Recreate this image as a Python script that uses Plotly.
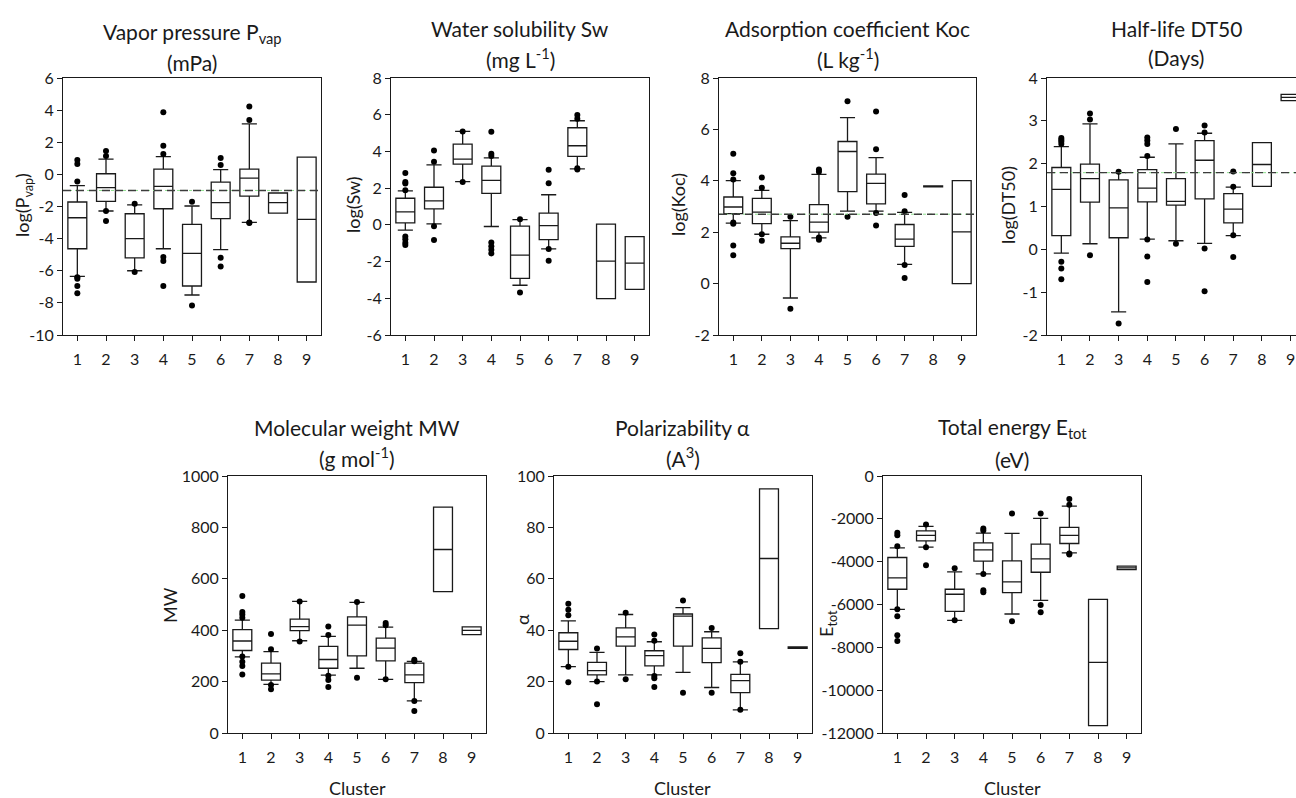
import plotly.graph_objects as go

W, H = 1296, 798
clusters = [1, 2, 3, 4, 5, 6, 7, 8, 9]

# ---------------- Vapor pressure ----------------
pvap_q1 = [-4.63, -1.68, -5.2, -2.14, -6.95, -2.76, -1.35, -2.41, -6.7]
pvap_med = [-2.7, -0.83, -4.0, -0.75, -4.92, -1.76, -0.23, -1.76, -2.8]
pvap_q3 = [-1.72, 0.04, -2.45, 0.33, -3.11, -0.48, 0.33, -1.16, 1.08]
pvap_lo = [-6.35, -2.28, -6.0, -4.63, -7.51, -4.69, -2.99, -2.41, -6.7]
pvap_hi = [-0.7, 0.95, -1.9, 1.1, -1.97, 0.29, 3.15, -1.16, 1.08]
pvap_out = [[0.9, 0.65, -0.45, -6.4, -6.5, -6.95, -7.4], [1.45, 1.14, -2.28, -2.9],
            [-1.83, -6.08], [3.86, 1.78, 1.27, -5.15, -5.4, -6.95], [-1.7, -8.17],
            [1.02, 0.58, -5.19, -5.73], [4.23, 3.38, -2.99, -3.03], [], []]
pvap_ref = -1.0
pvap_ticks = [-10, -8, -6, -4, -2, 0, 2, 4, 6]

# ---------------- Water solubility ----------------
sw_q1 = [0.11, 0.87, 3.31, 1.71, -2.91, -0.8, 3.73, -4.02, -3.51]
sw_med = [0.71, 1.31, 3.58, 2.42, -1.65, -0.04, 4.31, -1.98, -2.09]
sw_q3 = [1.45, 2.05, 4.4, 3.2, -0.07, 0.64, 5.29, 0.04, -0.64]
sw_lo = [-0.29, 0.05, 2.36, -0.09, -3.29, -1.31, 3.05, -4.02, -3.51]
sw_hi = [1.85, 3.27, 5.09, 3.65, 0.29, 1.64, 5.67, 0.04, -0.64]
sw_out = [[2.82, 2.33, 2.25, 1.89, -0.64, -0.78, -0.98, -1.1], [4.05, 3.44, -0.07, -0.82],
          [5.09, 2.33], [5.07, 3.87, 3.75, -0.96, -1.16, -1.36, -1.56], [0.31, -3.69],
          [3.0, 2.27, -1.31, -1.96], [5.98, 5.78, 3.09, 3.02], [], []]
sw_ticks = [-6, -4, -2, 0, 2, 4, 6, 8]

# ---------------- Adsorption coefficient ----------------
koc_q1 = [2.72, 2.33, 1.36, 2.0, 3.58, 3.1, 1.45, 3.76, 0.0]
koc_med = [2.98, 2.78, 1.57, 2.39, 5.14, 3.9, 1.73, 3.78, 2.01]
koc_q3 = [3.37, 3.32, 1.82, 3.07, 5.53, 4.26, 2.3, 3.8, 4.01]
koc_lo = [2.35, 1.92, -0.56, 1.78, 2.82, 2.82, 0.75, 3.76, 0.0]
koc_hi = [4.01, 3.63, 2.45, 4.25, 6.46, 4.9, 2.77, 3.8, 4.01]
koc_out = [[5.05, 4.29, 4.05, 2.38, 2.33, 1.48, 1.1], [4.13, 3.73, 1.92, 1.67],
           [2.6, -0.98], [4.44, 4.35, 1.79, 1.71], [7.1, 2.6],
           [6.7, 5.23, 2.75, 2.26], [3.45, 2.82, 0.72, 0.22], [], []]
koc_ref = 2.7
koc_ticks = [-2, 0, 2, 4, 6, 8]

# ---------------- Half-life ----------------
dt_q1 = [0.32, 1.1, 0.27, 1.11, 1.03, 1.18, 0.62, 1.47, 3.47]
dt_med = [1.4, 1.65, 0.97, 1.43, 1.12, 2.08, 0.94, 1.98, 3.55]
dt_q3 = [1.91, 1.99, 1.62, 1.86, 1.65, 2.54, 1.3, 2.49, 3.62]
dt_lo = [-0.09, 0.13, -1.46, 0.24, 0.2, 0.14, 0.32, 1.47, 3.47]
dt_hi = [2.4, 2.93, 1.79, 2.15, 2.46, 2.71, 1.45, 2.49, 3.62]
dt_out = [[2.6, 2.56, 2.52, 2.46, -0.29, -0.45, -0.7], [3.17, 3.03, -0.14],
          [1.81, -1.73], [2.61, 2.54, 2.46, 2.18, 0.23, -0.17, -0.76], [2.81, 0.13],
          [2.89, 2.73, 0.02, -0.98], [1.82, 1.46, 0.33, -0.18], [], []]
dt_ref = 1.79
dt_ticks = [-2, -1, 0, 1, 2, 3, 4]

# ---------------- Molecular weight ----------------
mw_q1 = [321, 206, 398, 252, 300, 281, 196, 550, 383]
mw_med = [358, 230, 414, 286, 420, 330, 226, 714, 399]
mw_q3 = [402, 272, 443, 337, 452, 369, 272, 879, 413]
mw_lo = [296, 189, 359, 225, 252, 209, 125, 550, 383]
mw_hi = [439, 317, 512, 376, 508, 412, 279, 879, 413]
mw_out = [[533, 471, 461, 448, 298, 277, 261, 228], [385, 326, 187, 170],
          [512, 356], [414, 381, 223, 206, 179], [510, 215],
          [428, 419, 209], [285, 279, 125, 86], [], []]
mw_ticks = [0, 200, 400, 600, 800, 1000]

# ---------------- Polarizability ----------------
pol_q1 = [32.5, 22.6, 33.8, 26.1, 33.8, 27.4, 15.7, 40.6, 32.9]
pol_med = [35.7, 24.3, 37.4, 30.1, 45.5, 32.9, 20.4, 67.9, 33.2]
pol_q3 = [39.0, 27.5, 40.9, 32.0, 46.3, 37.0, 22.8, 95.0, 33.5]
pol_lo = [25.8, 20.0, 22.6, 22.6, 23.6, 17.7, 9.0, 40.6, 32.9]
pol_hi = [43.6, 31.4, 46.1, 35.5, 48.8, 39.4, 27.7, 95.0, 33.5]
pol_out = [[50.3, 48.0, 45.8, 25.8, 19.7], [32.9, 20.0, 11.2], [46.8, 20.9],
           [38.3, 35.9, 22.2, 21.3, 17.9], [51.6, 15.7], [40.9, 15.7],
           [31.0, 27.7, 9.0], [], []]
pol_ticks = [0, 20, 40, 60, 80, 100]

# ---------------- Total energy ----------------
et_q1 = [-5289, -3026, -6318, -3978, -5445, -4493, -3151, -11654, -4374]
et_med = [-4758, -2777, -5522, -3448, -4945, -3869, -2777, -8705, -4290]
et_q3 = [-3806, -2558, -5289, -3120, -3963, -3183, -2402, -5757, -4205]
et_lo = [-6225, -3323, -6739, -4571, -6443, -5803, -3588, -11654, -4374]
et_hi = [-3354, -2355, -4477, -2668, -2683, -1981, -1404, -5757, -4205]
et_out = [[-2652, -2761, -3276, -6225, -6552, -7441, -7707], [-2262, -3323, -4165],
          [-4306, -6739], [-2449, -2543, -4571, -5335, -5429], [-1747, -6786],
          [-1747, -6022, -6365], [-1076, -1342, -3619, -3666], [], []]
et_ticks = [-12000, -10000, -8000, -6000, -4000, -2000, 0]

# ---------------- titles ----------------
titles1 = ["Vapor pressure P<sub>vap</sub>", "Water solubility Sw", "Adsorption coefficient Koc",
           "Half-life DT50", "Molecular weight MW", "Polarizability \u03b1", "Total energy E<sub>tot</sub>"]
titles2 = ["(mPa)", "(mg L<sup>-1</sup>)", "(L kg<sup>-1</sup>)", "(Days)",
           "(g mol<sup>-1</sup>)", "(A<sup>3</sup>)", "(eV)"]
ytitles = ["log(P<sub>vap</sub>)", "log(Sw)", "log(Koc)", "log(DT50)", "MW", "\u03b1", "E<sub>tot</sub>"]
xtitle = "Cluster"

FONT = "Lato"
INK = "#1a1a1a"


def px_x(v):
    return v / W


def px_y(v):
    return 1 - v / H


panels = [
    dict(stats=(pvap_q1, pvap_med, pvap_q3, pvap_lo, pvap_hi), out=pvap_out, ref=pvap_ref,
         ticks=pvap_ticks, x0=63, x1=321, top=True, t1y=33, t2y=62, xr=[0.5, 9.5]),
    dict(stats=(sw_q1, sw_med, sw_q3, sw_lo, sw_hi), out=sw_out, ref=None,
         ticks=sw_ticks, x0=391, x1=649, top=True, t1y=28, t2y=58, xr=[0.5, 9.5]),
    dict(stats=(koc_q1, koc_med, koc_q3, koc_lo, koc_hi), out=koc_out, ref=koc_ref,
         ticks=koc_ticks, x0=719, x1=976, top=True, t1y=28, t2y=58, xr=[0.5, 9.5]),
    dict(stats=(dt_q1, dt_med, dt_q3, dt_lo, dt_hi), out=dt_out, ref=dt_ref,
         ticks=dt_ticks, x0=1047, x1=1296, top=True, t1y=29, t2y=58, xr=[0.5, 9.19]),
    dict(stats=(mw_q1, mw_med, mw_q3, mw_lo, mw_hi), out=mw_out, ref=None,
         ticks=mw_ticks, x0=228, x1=486, top=False, t1y=427, t2y=457, xr=[0.5, 9.5]),
    dict(stats=(pol_q1, pol_med, pol_q3, pol_lo, pol_hi), out=pol_out, ref=None,
         ticks=pol_ticks, x0=554, x1=812, top=False, t1y=427, t2y=457, xr=[0.5, 9.5]),
    dict(stats=(et_q1, et_med, et_q3, et_lo, et_hi), out=et_out, ref=None,
         ticks=et_ticks, x0=883, x1=1141, top=False, t1y=428, t2y=459, xr=[0.5, 9.5]),
]
ytitle_x = [23, 353, 678, 1008, 170, 522, 827]
ytitle_y = [205, 205, 205, 205, 605, 620, 624]

fig = go.Figure()
layout = dict(width=W, height=H, margin=dict(l=0, r=0, t=0, b=0, autoexpand=False),
              paper_bgcolor="white", plot_bgcolor="white", showlegend=False,
              font=dict(family=FONT, color=INK, size=16))
annotations = []
shapes = []

for i, p in enumerate(panels):
    n = i + 1
    xa = "x" if n == 1 else f"x{n}"
    ya = "y" if n == 1 else f"y{n}"
    q1, med, q3, lo, hi = p["stats"]
    fig.add_trace(go.Box(x=clusters, q1=q1, median=med, q3=q3, lowerfence=lo, upperfence=hi,
                         xaxis=xa, yaxis=ya, width=0.66, whiskerwidth=0.8,
                         fillcolor="white", line=dict(color=INK, width=1.3),
                         boxpoints=False, hoverinfo="skip"))
    ox, oy = [], []
    for c, vals in zip(clusters, p["out"]):
        for v in vals:
            ox.append(c)
            oy.append(v)
    fig.add_trace(go.Scatter(x=ox, y=oy, mode="markers", xaxis=xa, yaxis=ya,
                             marker=dict(color="black", size=6), hoverinfo="skip"))
    ytop, ybot = (78, 335) if p["top"] else (476, 733)
    tv = p["ticks"]
    layout["xaxis" if n == 1 else f"xaxis{n}"] = dict(
        domain=[px_x(p["x0"]), px_x(p["x1"])], anchor=ya, range=p["xr"],
        tickmode="array", tickvals=clusters, ticktext=[str(c) for c in clusters],
        showline=True, linecolor=INK, linewidth=1, mirror=True,
        ticks="outside", ticklen=5, tickcolor=INK, showgrid=False, zeroline=False,
        ticklabelstandoff=5, ticklabeloverflow="allow", automargin=False, fixedrange=True,
        tickfont=dict(size=16, family=FONT, color=INK))
    layout["yaxis" if n == 1 else f"yaxis{n}"] = dict(
        domain=[px_y(ybot), px_y(ytop)], anchor=xa, range=[tv[0], tv[-1]],
        tickmode="array", tickvals=tv, ticktext=[str(v) for v in tv],
        showline=True, linecolor=INK, linewidth=1, mirror=(n != 4),
        ticks="outside", ticklen=5, tickcolor=INK, showgrid=False, zeroline=False,
        automargin=False, ticklabeloverflow="allow", fixedrange=True,
        tickfont=dict(size=16, family=FONT, color=INK))
    if p["ref"] is not None:
        shapes.append(dict(type="line", xref=f"{xa} domain", yref=ya, x0=0, x1=1,
                           y0=p["ref"], y1=p["ref"], line=dict(color="#8fe08f", width=1, dash="dot"),
                           layer="above"))
        shapes.append(dict(type="line", xref=f"{xa} domain", yref=ya, x0=0, x1=1,
                           y0=p["ref"], y1=p["ref"], line=dict(color="#3c3c3c", width=1.4, dash="8px,5px"),
                           layer="above"))
    cx = (p["x0"] + p["x1"]) / 2 if n != 4 else 1176
    annotations.append(dict(text=titles1[i], x=px_x(cx), y=px_y(p["t1y"]), xref="paper", yref="paper",
                            showarrow=False, xanchor="center", yanchor="middle",
                            font=dict(size=21, family=FONT, color=INK)))
    annotations.append(dict(text=titles2[i], x=px_x(cx), y=px_y(p["t2y"]), xref="paper", yref="paper",
                            showarrow=False, xanchor="center", yanchor="middle",
                            font=dict(size=21, family=FONT, color=INK)))
    annotations.append(dict(text=ytitles[i], x=px_x(ytitle_x[i]), y=px_y(ytitle_y[i]),
                            xref="paper", yref="paper", showarrow=False, textangle=-90,
                            xanchor="center", yanchor="middle",
                            font=dict(size=18, family=FONT, color=INK)))
    if not p["top"]:
        annotations.append(dict(text=xtitle, x=px_x(cx), y=px_y(788), xref="paper", yref="paper",
                                showarrow=False, xanchor="center", yanchor="middle",
                                font=dict(size=18, family=FONT, color=INK)))

layout["annotations"] = annotations
layout["shapes"] = shapes
fig.update_layout(**layout)
fig.write_html("out.html", config={"displayModeBar": False, "staticPlot": True},
               post_script="document.body.style.margin='0';document.body.style.overflow='hidden';")
